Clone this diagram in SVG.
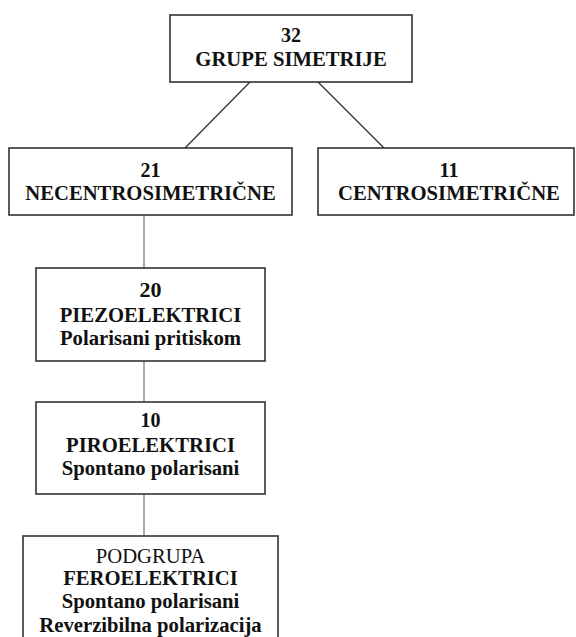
<svg xmlns="http://www.w3.org/2000/svg" width="576" height="637" viewBox="0 0 576 637">
<style>
.box{fill:#fff;stroke:#333;stroke-width:1.6}
.t{font-family:'Liberation Serif','DejaVu Serif',serif;font-size:20.7px;font-weight:bold;fill:#111;text-anchor:middle}
.n{font-size:20px}
.r{font-weight:normal}
.c{stroke:#333;stroke-width:1.3;fill:none}
.g{stroke:#aaa;stroke-width:2;fill:none}
</style>
<rect width="576" height="637" fill="#fff"/>
<g id="connectors">
<line class="c" x1="250" y1="82" x2="185" y2="148"/>
<line class="c" x1="318" y1="82" x2="384" y2="148"/>
<line class="g" x1="144" y1="215" x2="144" y2="268"/>
<line class="g" x1="144" y1="361" x2="144" y2="402"/>
<line class="g" x1="144" y1="494" x2="144" y2="536"/>
</g>
<g id="n32" font-family="Liberation Serif, serif">
<rect class="box" x="170" y="15" width="242" height="67"/>
<text class="t n" x="291" y="42">32</text>
<text class="t" x="291" y="66">GRUPE SIMETRIJE</text>
</g>
<g id="n21">
<rect class="box" x="9" y="148" width="283" height="67"/>
<text class="t n" x="150.5" y="177">21</text>
<text class="t" x="150.5" y="200">NECENTROSIMETRIČNE</text>
</g>
<g id="n11">
<rect class="box" x="318" y="148" width="256" height="67"/>
<text class="t n" x="449" y="177">11</text>
<text class="t" x="449" y="200">CENTROSIMETRIČNE</text>
</g>
<g id="n20">
<rect class="box" x="36" y="268" width="229" height="93"/>
<text class="t" x="150.5" y="297" style="font-size:22px">20</text>
<text class="t" x="150.5" y="322">PIEZOELEKTRICI</text>
<text class="t" x="150.5" y="345">Polarisani pritiskom</text>
</g>
<g id="n10">
<rect class="box" x="36" y="402" width="229" height="92"/>
<text class="t n" x="150.5" y="427">10</text>
<text class="t" x="150.5" y="452">PIROELEKTRICI</text>
<text class="t" x="150.5" y="475">Spontano polarisani</text>
</g>
<g id="nfero">
<rect class="box" x="23" y="536" width="255" height="110"/>
<text class="t r" x="150.5" y="563">PODGRUPA</text>
<text class="t" x="150.5" y="585">FEROELEKTRICI</text>
<text class="t" x="150.5" y="608">Spontano polarisani</text>
<text class="t" x="150.5" y="632">Reverzibilna polarizacija</text>
</g>
</svg>
